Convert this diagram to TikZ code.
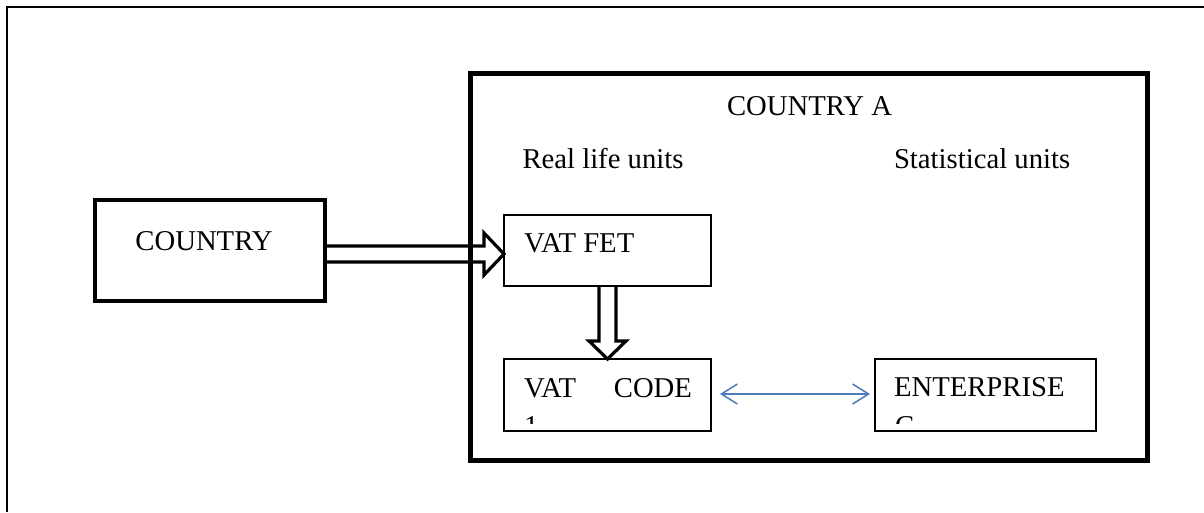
\documentclass[tikz,border=0pt]{standalone}
\usepackage{fontspec}
\setmainfont{Liberation Serif}
\usetikzlibrary{calc,arrows.meta}
\definecolor{wordblue}{HTML}{4A7EBB}
\begin{document}
\begin{tikzpicture}[x=1pt,y=-1pt,
  lbl/.style={inner sep=0pt,outer sep=0pt,font=\fontsize{28.7}{34}\selectfont},
  thinbox/.style={draw,line width=1.8pt,inner sep=0pt,outer sep=0pt},
  countrybox/.style={draw,line width=4.5pt,inner sep=0pt,outer sep=0pt},
  bigbox/.style={draw,line width=5pt,inner sep=0pt,outer sep=0pt},
  blockarrow/.style={draw,line width=3.2pt,line join=miter},
  bluearrow/.style={draw=wordblue,line width=1.5pt,
    {Straight Barb[length=16pt,width=20pt]}-{Straight Barb[length=16pt,width=20pt]}}]
\useasboundingbox (0,0) rectangle (1204,512);
% outer frame
\draw[line width=2.2pt] (7,512) -- (7,7) -- (1204,7);
% boxes
\node[bigbox, minimum width=677pt, minimum height=387pt] (countryA) at (808.5,266.5) {};
\node[countrybox, minimum width=230pt, minimum height=101pt] (country) at (210,250.5) {};
\node[thinbox, minimum width=207pt, minimum height=71pt] (vatfet) at (607.5,250.5) {};
\node[thinbox, minimum width=207pt, minimum height=72pt] (vatcode) at (607.5,395) {};
\node[thinbox, minimum width=221pt, minimum height=72pt] (ent) at (985.5,395) {};
% texts
\node[lbl,anchor=base] (tcountry) at (204,250) {COUNTRY};
\node[lbl,anchor=base west] (tcountryA) at (727,115) {COUNTRY A};
\node[lbl,anchor=base west] (treal) at (522.5,168) {Real life units};
\node[lbl,anchor=base west] (tstat) at (894,168) {Statistical units};
\node[lbl,anchor=base west] (tvatfet) at (524,252) {VAT FET};
\node[lbl,anchor=base west] (tvatcode) at (524,397) {\hbox to 168pt{VAT\hfill CODE}};
\node[lbl,anchor=base west] (tent) at (894,396) {ENTERPRISE};
\begin{scope}
  \clip (504,359) rectangle (711,423);
  \node[lbl,anchor=base west] (tone) at (524,435) {1};
\end{scope}
\begin{scope}
  \clip (875,359) rectangle (1096,423);
  \node[lbl,anchor=base west] (tC) at (895,435) {C};
\end{scope}
% block arrow COUNTRY -> VAT FET
\coordinate (rtip) at ($(vatfet.west)+(0,3.5)$);
\draw[blockarrow] let \p1=(country.east), \p2=(rtip) in
  (\x1,\y2+8pt) -- (\x2-20pt,\y2+8pt) -- (\x2-20pt,\y2+21pt) -- (\p2)
  -- (\x2-20pt,\y2-21pt) -- (\x2-20pt,\y2-8pt) -- (\x1,\y2-8pt);
% block arrow VAT FET -> VAT CODE
\draw[blockarrow] let \p1=(vatfet.south), \p2=(vatcode.north) in
  (\x2-8.5pt,\y1) -- (\x2-8.5pt,\y2+18pt) -- (\x2-18.5pt,\y2+18pt) -- (\p2)
  -- (\x2+18.5pt,\y2+18pt) -- (\x2+8.5pt,\y2+18pt) -- (\x2+8.5pt,\y1);
% blue double arrow
\draw[bluearrow] ($(vatcode.east)+(9,-1)$) -- ($(ent.west)+(-5,-1)$);
\end{tikzpicture}
\end{document}
